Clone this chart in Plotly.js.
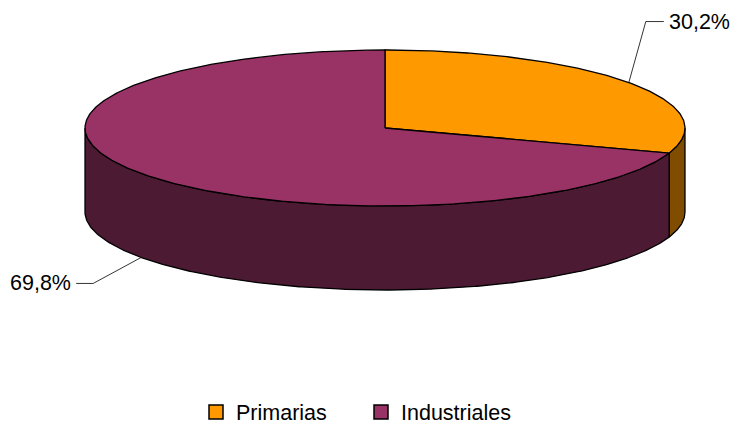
<!DOCTYPE html>
<html><head><meta charset="utf-8">
<script src="https://cdn.plot.ly/plotly-3.0.1.min.js"></script>
<style>html,body{margin:0;padding:0;background:#fff}</style>
</head><body><div id="chart" style="width:731px;height:426px"></div>
<script>
// ---- data ----
const categories = ["Primarias", "Industriales"];
const values = [30.2, 69.8];
const valueLabels = ["30,2%", "69,8%"];

// ---- style ----
const topColors = ["#FF9900", "#993366"];
const sideColors = ["#804D00", "#4D1A33"];
const W = 731, H = 426;
const geom = {cx: 385, cy: 128, rx: 300, ry: 78, depth: 84};
// leader line offsets: [elbow dx, elbow dy, tail dx]
const leaderStyle = [[17, -61, 18], [-48, 26, -17]];
const FONT = "Liberation Sans, Arial, sans-serif";

const total = values.reduce((a, b) => a + b, 0);
function pt(deg, dz) {
  const r = deg * Math.PI / 180;
  return [geom.cx + geom.rx * Math.cos(r), geom.cy - geom.ry * Math.sin(r) + (dz || 0)];
}
function arc(a0, a1, dz) {
  const xs = [], ys = [];
  const steps = Math.max(2, Math.ceil(Math.abs(a1 - a0) / 0.5));
  for (let i = 0; i <= steps; i++) {
    const p = pt(a0 + (a1 - a0) * i / steps, dz);
    xs.push(p[0]); ys.push(p[1]);
  }
  return [xs, ys];
}

// slice angles: start at 12 o'clock, clockwise
const slices = [];
let start = 90;
values.forEach((v, i) => {
  const end = start - 360 * v / total;
  slices.push({i, s: start, e: end, mid: (start + end) / 2});
  start = end;
});

const sideTraces = [], topTraces = [], leaderTraces = [], annotations = [];
slices.forEach(sl => {
  // front side faces (angles in [180,360] mod 360)
  for (let k = -2; k <= 1; k++) {
    const lo = Math.max(sl.e, 180 + 360 * k), hi = Math.min(sl.s, 360 + 360 * k);
    if (hi - lo > 0.01) {
      const [tx, ty] = arc(lo, hi, 0);
      const [bx, by] = arc(hi, lo, geom.depth);
      sideTraces.push({
        type: "scatter", mode: "lines", x: tx.concat(bx, [tx[0]]), y: ty.concat(by, [ty[0]]),
        fill: "toself", fillcolor: sideColors[sl.i], line: {color: "#000", width: 1.3},
        hoverinfo: "skip", showlegend: false
      });
    }
  }
  // top face wedge
  const [ax, ay] = arc(sl.s, sl.e, 0);
  topTraces.push({
    type: "scatter", mode: "lines",
    x: [geom.cx].concat(ax, [geom.cx]), y: [geom.cy].concat(ay, [geom.cy]),
    fill: "toself", fillcolor: topColors[sl.i], line: {color: "#000", width: 1.3},
    hoverinfo: "skip", showlegend: false, name: categories[sl.i]
  });
  // leader line + label
  const front = Math.sin(sl.mid * Math.PI / 180) < 0;
  const a = pt(sl.mid, front ? geom.depth : 0);
  const st = leaderStyle[sl.i];
  const el = [a[0] + st[0], a[1] + st[1]];
  const tl = [el[0] + st[2], el[1]];
  leaderTraces.push({
    type: "scatter", mode: "lines", x: [a[0], el[0], tl[0]], y: [a[1], el[1], tl[1]],
    line: {color: "#000", width: 0.8}, hoverinfo: "skip", showlegend: false
  });
  annotations.push({
    x: tl[0] + (st[2] > 0 ? 3 : -3), y: tl[1], xref: "x", yref: "y",
    text: valueLabels[sl.i], showarrow: false,
    xanchor: st[2] > 0 ? "left" : "right", yanchor: "middle",
    font: {family: FONT, size: 21.5, color: "#000"}
  });
});

const legendTraces = categories.map((c, i) => ({
  type: "scatter", mode: "markers", x: [null], y: [null], name: c,
  marker: {symbol: "square", size: 14, color: topColors[i], line: {color: "#000", width: 1.5}},
  hoverinfo: "skip", showlegend: true
}));

const layout = {
  width: W, height: H, margin: {l: 0, r: 0, t: 0, b: 0, pad: 0, autoexpand: false},
  paper_bgcolor: "#fff", plot_bgcolor: "#fff",
  xaxis: {range: [0, W], visible: false, fixedrange: true},
  yaxis: {range: [H, 0], visible: false, fixedrange: true},
  showlegend: true,
  legend: {
    orientation: "h", x: 196 / W, xanchor: "left", y: 1 - 412 / H, yanchor: "middle",
    font: {family: FONT, size: 21.5, color: "#000"}, entrywidth: 120, entrywidthmode: "pixels",
    bgcolor: "rgba(0,0,0,0)", itemclick: false, itemdoubleclick: false
  },
  annotations: annotations
};

Plotly.newPlot("chart", sideTraces.concat(topTraces, leaderTraces, legendTraces), layout,
  {displayModeBar: false, staticPlot: true});
</script>
</body></html>
